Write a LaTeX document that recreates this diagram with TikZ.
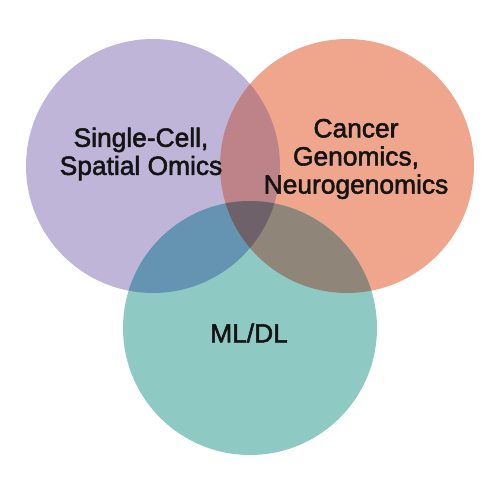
\documentclass[tikz,border=0pt]{standalone}
\usepackage{fontspec}
\setmainfont{Liberation Sans}
\usetikzlibrary{positioning}

\definecolor{omicsC}{HTML}{BEB5D8}
\definecolor{cancerC}{HTML}{EFA68D}
\definecolor{mlC}{HTML}{8FC9C4}
\definecolor{omcaC}{HTML}{BE8388}
\definecolor{ommlC}{HTML}{6494B2}
\definecolor{camlC}{HTML}{8F8578}
\definecolor{allC}{HTML}{6E616A}

\begin{document}
\begin{tikzpicture}[x=0.02cm,y=-0.02cm,
  setlabel/.style={align=center,text=black!92,
    font=\fontsize{15}{16}\selectfont\addfontfeature{FakeBold=2}}]
  \useasboundingbox (0,0) rectangle (500,500);
  \fill[white] (0,0) rectangle (500,500);
  \def\rad{2.54cm}
  \coordinate (omics) at (153,166);
  \coordinate (cancer) at (347,166);
  \coordinate (ml) at (250,328);
  % the three sets
  \foreach \c/\col in {omics/omicsC,cancer/cancerC,ml/mlC}
    \fill[\col] (\c) circle (\rad);
  % pairwise overlaps
  \foreach \a/\b/\col in {omics/cancer/omcaC,omics/ml/ommlC,cancer/ml/camlC} {
    \begin{scope}
      \clip (\a) circle (\rad);
      \fill[\col] (\b) circle (\rad);
    \end{scope}
  }
  % centre
  \begin{scope}
    \clip (omics) circle (\rad);
    \clip (cancer) circle (\rad);
    \fill[allC] (ml) circle (\rad);
  \end{scope}
  \node[setlabel] (omicsL) at (141,154) {Single-Cell,\\Spatial Omics};
  \node[setlabel] (cancerL) at (356,159) {Cancer\\Genomics,\\Neurogenomics};
  \node[setlabel] (mlL) at (249,333) {ML/DL};
\end{tikzpicture}
\end{document}
